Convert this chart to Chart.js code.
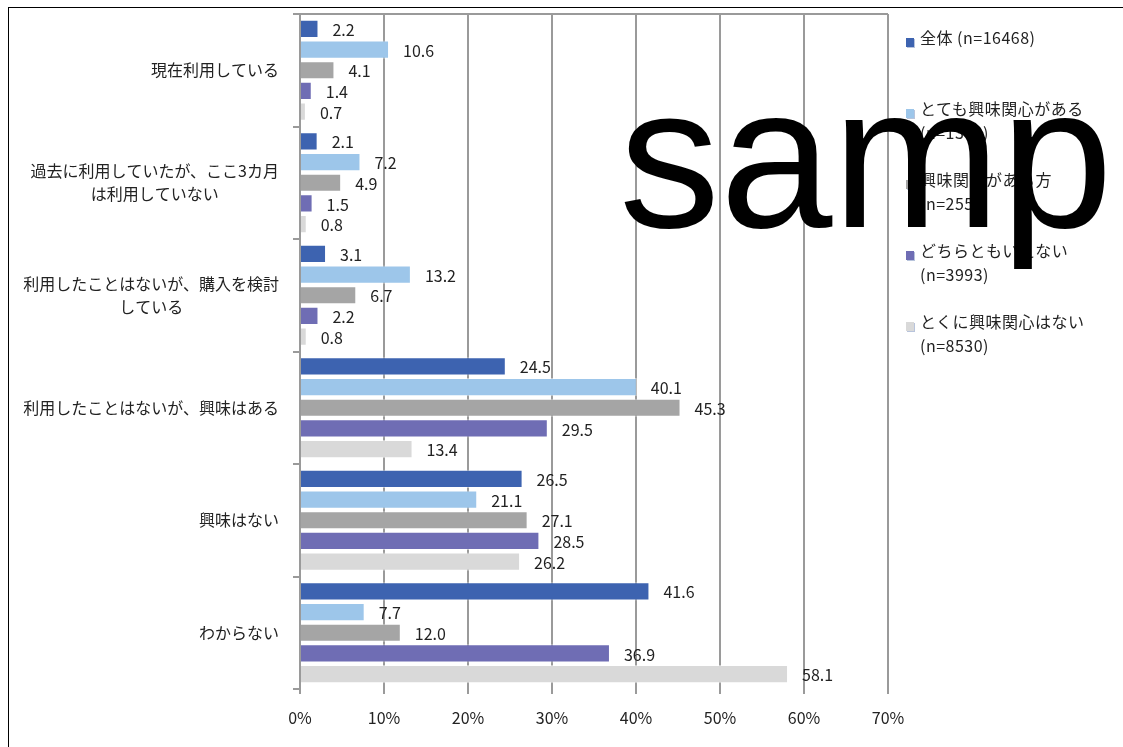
<!DOCTYPE html>
<html>
<head>
<meta charset="utf-8">
<script src="https://cdn.jsdelivr.net/npm/chart.js@4/dist/chart.umd.min.js"></script>
<style>
  html, body { margin: 0; padding: 0; background: #fff; overflow: hidden; }
  body { width: 1123px; height: 747px; position: relative; font-family: "Noto Sans CJK JP", "Noto Sans", sans-serif; }
  #wrap { position: absolute; left: 0; top: 0; width: 1123px; height: 747px; }
  #frame { position: absolute; left: 8px; top: 7px; width: 1200px; height: 800px; border: 1px solid #000; box-sizing: border-box; pointer-events: none; }
  #legend { position: absolute; left: 905px; top: 0; }
  .item { position: absolute; left: 0; white-space: nowrap; font-size: 16px; line-height: 24px; color: #222; letter-spacing: 0.5px; }
  .sw { position: absolute; left: 1px; width: 8px; height: 9px; box-shadow: 1px 1px 0 #b8c4dc; }
  .txt { position: absolute; left: 15px; top: 0; }
  #mark { position: absolute; left: 619px; top: 27px; font-family: "Liberation Sans", Arial, sans-serif; font-size: 202px; line-height: 260px; color: #000; white-space: nowrap; }
</style>
</head>
<body>
<div id="wrap"><canvas id="chart" width="1123" height="747"></canvas></div>
<div id="frame"></div>
<div id="legend"></div>
<div id="mark">samp</div>
<script>
const categories = [
  ['現在利用している'],
  ['過去に利用していたが、ここ3カ月', 'は利用していない'],
  ['利用したことはないが、購入を検討', 'している'],
  ['利用したことはないが、興味はある'],
  ['興味はない'],
  ['わからない']
];

const seriesNames = ['全体', 'とても興味関心がある', '興味関心がある方', 'どちらともいえない', 'とくに興味関心はない'];
const sampleSizes = [16468, 1388, 2557, 3993, 8530];
const seriesColors = ['#3d63b0', '#9dc6ea', '#a5a5a5', '#6f6db4', '#d9d9d9'];

const allValues = [2.2, 2.1, 3.1, 24.5, 26.5, 41.6];
const veryInterested = [10.6, 7.2, 13.2, 40.1, 21.1, 7.7];
const interested = [4.1, 4.9, 6.7, 45.3, 27.1, 12.0];
const neutral = [1.4, 1.5, 2.2, 29.5, 28.5, 36.9];
const notInterested = [0.7, 0.8, 0.8, 13.4, 26.2, 58.1];

const seriesValues = [allValues, veryInterested, interested, neutral, notInterested];
const xTicks = [0, 10, 20, 30, 40, 50, 60, 70];

const FONT = '"Noto Sans CJK JP", "Noto Sans", sans-serif';
const gridGray = '#9a9a9a';

// value labels to the right of each bar, category text left of the axis
const labelPlugin = {
  id: 'labels',
  afterDatasetsDraw(chart) {
    const ctx = chart.ctx;
    ctx.save();
    ctx.fillStyle = '#222';
    ctx.font = '16px ' + FONT;
    ctx.textBaseline = 'middle';
    ctx.textAlign = 'left';
    chart.data.datasets.forEach((ds, i) => {
      chart.getDatasetMeta(i).data.forEach((bar, j) => {
        ctx.fillText(ds.data[j].toFixed(1), bar.x + 14, bar.y + 1);
      });
    });

    const y = chart.scales.y;
    ctx.font = '16px ' + FONT;
    ctx.textAlign = 'center';
    const right = chart.chartArea.left - 21;
    categories.forEach((lines, i) => {
      const cy = y.getPixelForValue(i);
      const w = Math.max(...lines.map(l => ctx.measureText(l).width));
      const cx = right - w / 2;
      const lh = 23;
      const top = cy - (lines.length - 1) * lh / 2;
      lines.forEach((l, k) => ctx.fillText(l, cx, top + k * lh));
    });

    // top edge of the plot
    const a = chart.chartArea;
    ctx.strokeStyle = gridGray;
    ctx.lineWidth = 2;
    ctx.beginPath();
    ctx.moveTo(a.left, a.top);
    ctx.lineTo(a.right, a.top);
    ctx.stroke();
    ctx.restore();
  }
};

new Chart(document.getElementById('chart'), {
  type: 'bar',
  data: {
    labels: categories.map(c => c.join('')),
    datasets: seriesNames.map((name, i) => ({
      label: name,
      data: seriesValues[i],
      backgroundColor: seriesColors[i],
      borderColor: 'rgba(255,255,255,0.5)',
      borderWidth: 1,
      categoryPercentage: 0.92,
      barPercentage: 0.88
    }))
  },
  options: {
    indexAxis: 'y',
    responsive: false,
    animation: false,
    layout: { padding: { top: 14, right: 235, left: 0, bottom: 0 } },
    plugins: { legend: { display: false }, tooltip: { enabled: false } },
    scales: {
      x: {
        min: 0,
        max: 70,
        afterBuildTicks: s => { s.ticks = xTicks.map(v => ({ value: v })); },
        afterFit: s => { s.height = 58; },
        grid: { color: gridGray, lineWidth: 2, tickLength: 5 },
        border: { display: false },
        ticks: {
          color: '#222',
          font: { family: FONT, size: 16 },
          padding: 14,
          callback: v => v + '%'
        }
      },
      y: {
        afterFit: s => { s.width = 300; },
        grid: { drawOnChartArea: false, color: gridGray, lineWidth: 2, tickLength: 7 },
        border: { color: gridGray, width: 2 },
        ticks: { display: false }
      }
    }
  },
  plugins: [labelPlugin]
});

// legend at the right
const legend = document.getElementById('legend');
seriesNames.forEach((name, i) => {
  const item = document.createElement('div');
  item.className = 'item';
  item.style.top = (25 + i * 71) + 'px';
  const sw = document.createElement('div');
  sw.className = 'sw';
  sw.style.background = seriesColors[i];
  sw.style.top = '13px';
  const txt = document.createElement('div');
  txt.className = 'txt';
  txt.innerHTML = i === 0
    ? name + ' (n=' + sampleSizes[i] + ')'
    : name + '<br>(n=' + sampleSizes[i] + ')';
  item.appendChild(sw);
  item.appendChild(txt);
  legend.appendChild(item);
});
</script>
</body>
</html>
